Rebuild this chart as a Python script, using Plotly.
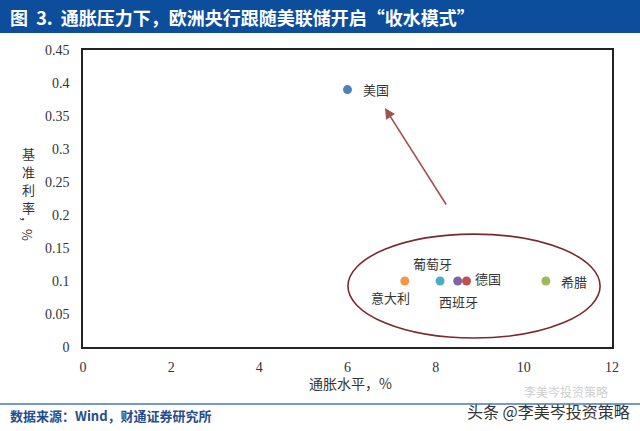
import plotly.graph_objects as go

# Data
countries = ["美国", "意大利", "葡萄牙", "西班牙", "德国", "希腊"]
inflation = [6.0, 7.3, 8.1, 8.5, 8.7, 10.5]
rate = [0.39, 0.10, 0.10, 0.10, 0.10, 0.10]
colors = ["#4f81bd", "#f79646", "#4bacc6", "#8064a2", "#c0504d", "#9bbb59"]
# label offsets in px (style)
label_dx = [28, -14, -8, 1, 21, 28]
label_dy = [0, -16, 18, -20, 3, 0]

x_ticks = [0, 2, 4, 6, 8, 10, 12]
y_ticks = [0, 0.05, 0.1, 0.15, 0.2, 0.25, 0.3, 0.35, 0.4, 0.45]
y_tick_text = ["0", "0.05", "0.1", "0.15", "0.2", "0.25", "0.3", "0.35", "0.4", "0.45"]

y_title_chars = ["基", "准", "利", "率"]

CJK = "Noto Sans CJK SC"
SERIF = "Liberation Serif"

W, H = 640, 431
L, R, T, B = 83, 28, 50, 84
PW, PH = W - L - R, H - T - B

def px(xp):
    return (xp - L) / PW

def py(yp):
    return 1 - (yp - T) / PH

fig = go.Figure()
fig.add_trace(go.Scatter(
    x=inflation, y=rate, mode="markers",
    marker=dict(size=9, color=colors),
    hoverinfo="skip", showlegend=False,
))

annotations = []
for c, xv, yv, dx, dy in zip(countries, inflation, rate, label_dx, label_dy):
    annotations.append(dict(x=xv, y=yv, xref="x", yref="y", text=c, showarrow=False,
                            xshift=dx, yshift=dy,
                            font=dict(family=CJK, size=13, color="#333333")))

# arrow pointing to US
annotations.append(dict(x=6.85, y=0.362, ax=8.26, ay=0.2136, xref="x", yref="y",
                        axref="x", ayref="y", text="", showarrow=True,
                        arrowhead=2, arrowsize=1.3, arrowwidth=1.6, arrowcolor="#a0524f"))

def paper_text(x, y, text, size, color, xanchor="center", bold=False, angle=0):
    if bold:
        text = "<b>" + text + "</b>"
    return dict(x=px(x), y=py(y), xref="paper", yref="paper", xanchor=xanchor,
                yanchor="middle", showarrow=False, text=text, textangle=angle,
                font=dict(family=CJK, size=size, color=color))

# title
annotations.append(paper_text(8, 17, "图  3.  通胀压力下，欧洲央行跟随美联储开启“收水模式”",
                              18, "white", xanchor="left", bold=True))
# axis titles
annotations.append(paper_text(350, 383, "通胀水平，%", 14, "#333333"))
for i, ch in enumerate(y_title_chars):
    annotations.append(paper_text(28, 153 + i * 18, ch, 13, "#333333"))
annotations.append(paper_text(28, 228, "，%", 13, "#333333", angle=90))
# footer
annotations.append(paper_text(8, 415, "数据来源：Wind，财通证券研究所", 13, "#1f4e8c",
                              xanchor="left", bold=True))
annotations.append(paper_text(522, 391, "李美岑投资策略", 12, "#cfcfcf", xanchor="left"))
annotations.append(paper_text(632, 411, "头条 @李美岑投资策略", 16, "#333333", xanchor="right"))

shapes = [
    dict(type="rect", xref="paper", yref="paper", x0=px(0), x1=px(W), y0=py(33), y1=py(0),
         fillcolor="#0d4e9c", line=dict(width=0), layer="below"),
    dict(type="line", xref="paper", yref="paper", x0=px(0), x1=px(W), y0=py(404), y1=py(404),
         line=dict(color="#4a78b0", width=1.5)),
    dict(type="circle", xref="x", yref="y", x0=6.01, x1=11.73, y0=0.0136, y1=0.171,
         line=dict(color="#7a2a2e", width=1.6)),
]

fig.update_layout(
    width=W, height=H, margin=dict(l=L, r=R, t=T, b=B),
    paper_bgcolor="white", plot_bgcolor="white",
    annotations=annotations, shapes=shapes,
    xaxis=dict(range=[0, 12], tickvals=x_ticks, showgrid=False, zeroline=False,
               showline=True, linecolor="#222222", linewidth=1.5, mirror=True,
               tickfont=dict(family=SERIF, size=14, color="#333333"), ticks="",
               ticklabelstandoff=6),
    yaxis=dict(range=[0, 0.45], tickvals=y_ticks, ticktext=y_tick_text, showgrid=False,
               zeroline=False, showline=True, linecolor="#222222", linewidth=1.5, mirror=True,
               tickfont=dict(family=SERIF, size=14, color="#333333"), ticks="",
               ticklabelstandoff=9),
)

fig.write_html("out.html")
